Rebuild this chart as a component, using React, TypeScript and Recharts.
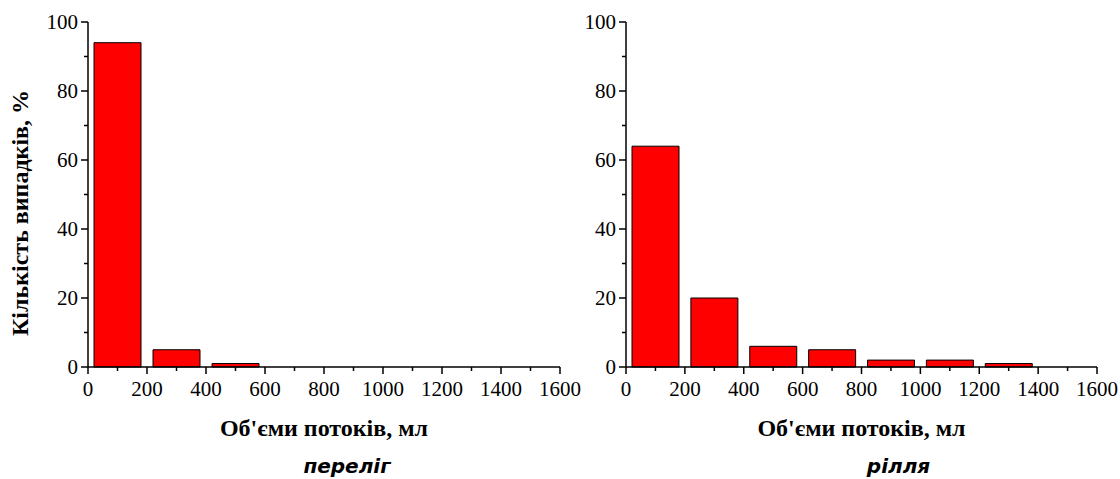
import { Bar, BarChart, Label, XAxis, YAxis } from "recharts";

const binCenters = [100, 300, 500, 700, 900, 1100, 1300, 1500];
const perelig = [94, 5, 1, 0, 0, 0, 0, 0];
const rillia = [64, 20, 6, 5, 2, 2, 1, 0];
const xTicks = [0, 100, 200, 300, 400, 500, 600, 700, 800, 900, 1000, 1100, 1200, 1300, 1400, 1500, 1600];
const yTicks = [0, 10, 20, 30, 40, 50, 60, 70, 80, 90, 100];
const xTitle = "Об'єми потоків, мл";
const yTitle = "Кількість випадків, %";

const serif = "'Liberation Serif', 'Times New Roman', serif";

const XTick = (props: any) => {
  const { x, y, payload } = props;
  const major = payload.value % 200 === 0;
  return (
    <g>
      <line x1={x} y1={y} x2={x} y2={y + (major ? 7 : 4)} stroke="#000" strokeWidth={1.5} />
      {major && (
        <text x={x} y={y + 29} textAnchor="middle" fontFamily={serif} fontSize={21} fill="#000">
          {payload.value}
        </text>
      )}
    </g>
  );
};

const YTick = (props: any) => {
  const { x, y, payload } = props;
  const major = payload.value % 20 === 0;
  return (
    <g>
      <line x1={x} y1={y} x2={x - (major ? 7 : 4)} y2={y} stroke="#000" strokeWidth={1.5} />
      {major && (
        <text x={x - 10} y={y + 7} textAnchor="end" fontFamily={serif} fontSize={21} fill="#000">
          {payload.value}
        </text>
      )}
    </g>
  );
};

function Histogram({
  values,
  subtitle,
  subtitleShift,
  showYTitle,
  left,
  width,
  yAxisWidth,
  rightMargin,
}: {
  values: number[];
  subtitle: string;
  subtitleShift: number;
  showYTitle: boolean;
  left: number;
  width: number;
  yAxisWidth: number;
  rightMargin: number;
}) {
  const data = binCenters.map((c, i) => ({ x: c, v: values[i] }));
  return (
    <div style={{ position: "absolute", left, top: 0 }}>
      <BarChart
        width={width}
        height={479}
        data={data}
        margin={{ top: 22, right: rightMargin, left: 0, bottom: 0 }}
      >
        <XAxis
          dataKey="x"
          type="number"
          domain={[0, 1600]}
          ticks={xTicks}
          interval={0}
          height={112}
          tickSize={0}
          tickMargin={0}
          tickLine={false}
          tick={<XTick />}
          axisLine={{ stroke: "#000", strokeWidth: 1.5 }}
        >
          <Label
            content={(p: any) => {
              const vb = p.viewBox;
              const cx = vb.x + vb.width / 2;
              return (
                <g>
                  <text x={cx} y={vb.y + 69} textAnchor="middle" fontFamily={serif} fontWeight="bold" fontSize={24} fill="#000">
                    {xTitle}
                  </text>
                  <text
                    x={cx + subtitleShift}
                    y={vb.y + 106}
                    textAnchor="middle"
                    fontFamily="'DejaVu Sans', sans-serif"
                    fontWeight="bold"
                    fontStyle="italic"
                    fontSize={20}
                    fill="#000"
                  >
                    {subtitle}
                  </text>
                </g>
              );
            }}
          />
        </XAxis>
        <YAxis
          type="number"
          domain={[0, 100]}
          ticks={yTicks}
          interval={0}
          width={yAxisWidth}
          tickSize={0}
          tickMargin={0}
          tickLine={false}
          tick={<YTick />}
          axisLine={{ stroke: "#000", strokeWidth: 1.5 }}
        >
          {showYTitle && (
            <Label
              content={() => (
                <text
                  x={0}
                  y={0}
                  transform="translate(28, 213) rotate(-90)"
                  textAnchor="middle"
                  fontFamily={serif}
                  fontWeight="bold"
                  fontSize={24}
                  fill="#000"
                >
                  {yTitle}
                </text>
              )}
            />
          )}
        </YAxis>
        <Bar dataKey="v" fill="#ff0000" stroke="#000" strokeWidth={1} barSize={47} isAnimationActive={false} />
      </BarChart>
    </div>
  );
}

export default function App() {
  return (
    <div style={{ position: "absolute", left: 0, top: 0, width: 1120, height: 479, background: "#fff", overflow: "hidden" }}>
      <Histogram
        values={perelig}
        subtitle="переліг"
        subtitleShift={23}
        showYTitle={true}
        left={0}
        width={600}
        yAxisWidth={88}
        rightMargin={40}
      />
      <Histogram
        values={rillia}
        subtitle="рілля"
        subtitleShift={37}
        showYTitle={false}
        left={540}
        width={580}
        yAxisWidth={86}
        rightMargin={23}
      />
    </div>
  );
}
